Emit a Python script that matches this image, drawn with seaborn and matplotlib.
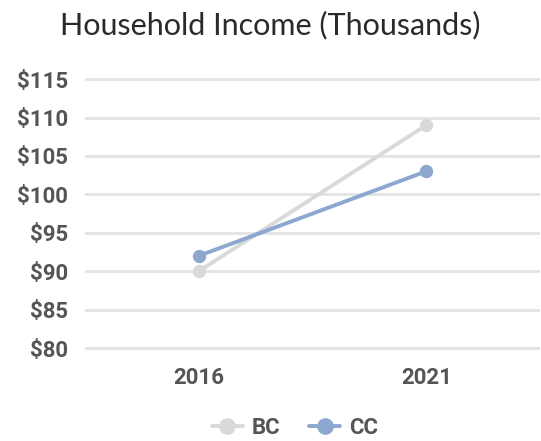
import matplotlib
matplotlib.use("Agg")
import matplotlib.pyplot as plt
import seaborn as sns
import pandas as pd

# Household income, in thousands of dollars
years = ["2016", "2021"]
bc_income = [90, 109]
cc_income = [92, 103]
series_names = ["BC", "CC"]
y_ticks = [80, 85, 90, 95, 100, 105, 110, 115]

df = pd.DataFrame({
    "year": years * 2,
    "income": bc_income + cc_income,
    "series": [series_names[0]] * len(years) + [series_names[1]] * len(years),
})

sns.set_theme(style="white")
plt.rcParams["font.family"] = ["Roboto", "DejaVu Sans"]

palette = {"BC": "#d9d9d9", "CC": "#8ea7d0"}
text_color = "#555555"

fig = plt.figure(figsize=(5.41, 4.41), dpi=100)
ax = fig.add_axes([85 / 541, 0.1934, 455 / 541, 0.838 - 0.1934])

sns.pointplot(data=df, x="year", y="income", hue="series", palette=palette,
              markers="o", linestyles="-", markersize=7.5, linewidth=2.8,
              ax=ax, legend=False)

ax.set_xlim(-0.5, 1.5)
ax.set_ylim(79, 116)
ax.set_yticks(y_ticks)
ax.set_yticklabels([f"${v}" for v in y_ticks])
ax.grid(axis="y", color="#e3e3e3", linewidth=2)
ax.set_axisbelow(True)
for s in ax.spines.values():
    s.set_visible(False)
ax.tick_params(axis="both", length=0, labelsize=16, labelcolor=text_color)
for lbl in ax.get_xticklabels() + ax.get_yticklabels():
    lbl.set_fontweight("bold")
ax.tick_params(axis="y", pad=12)
ax.tick_params(axis="x", pad=8)
ax.set_xlabel("")
ax.set_ylabel("")

fig.text(0.5, 0.943, "Household Income (Thousands)", ha="center", va="center",
         fontsize=22, color="#2a2a2a", family=["Lato", "DejaVu Sans"])

handles = [plt.Line2D([0], [0], color=palette[n], marker="o", markersize=11,
                      linewidth=2.8) for n in series_names]
leg = fig.legend(handles, series_names, loc="center", bbox_to_anchor=(0.545, 0.03),
                 ncol=2, frameon=False, handlelength=1.4, columnspacing=1.3,
                 handletextpad=0.4, prop={"size": 16, "weight": "bold"})
for t in leg.get_texts():
    t.set_color(text_color)

fig.savefig("out.png", dpi=100)
